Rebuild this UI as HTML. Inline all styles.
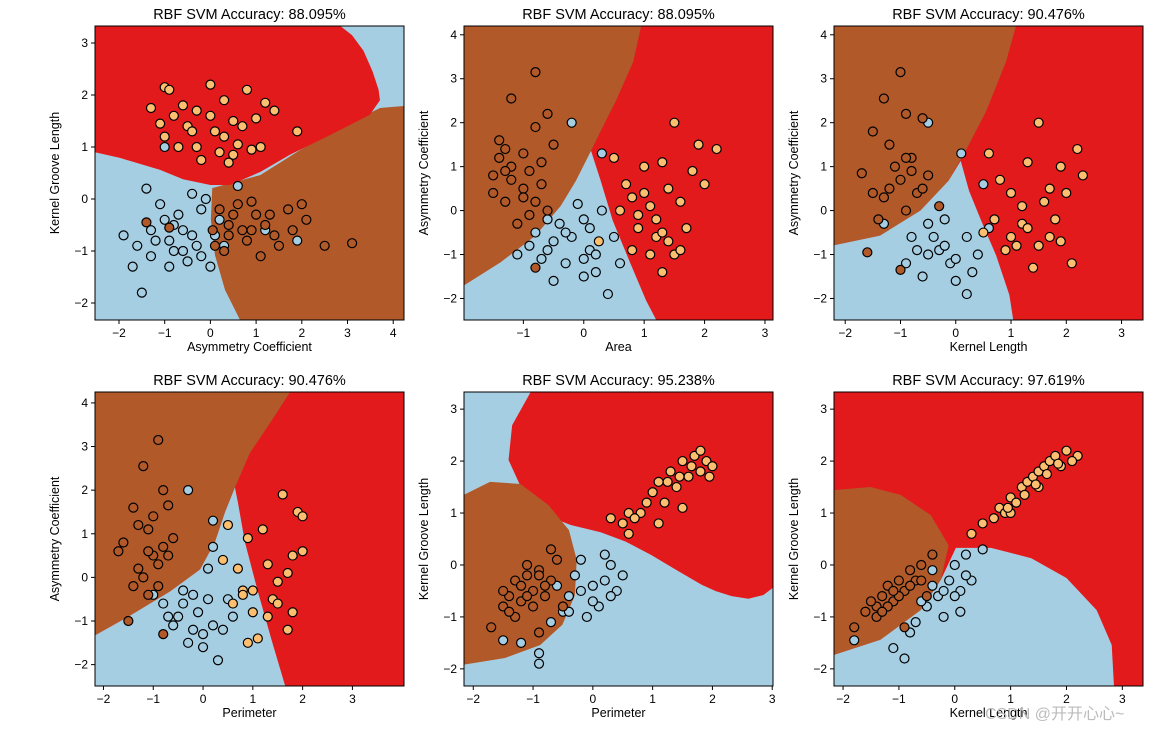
<!DOCTYPE html>
<html><head><meta charset="utf-8"><style>
body{margin:0;background:#fff;width:1171px;height:731px;overflow:hidden;font-family:"Liberation Sans","DejaVu Sans",sans-serif}
svg text{font-family:"Liberation Sans","DejaVu Sans","Noto Sans CJK SC",sans-serif}
</style></head><body>
<svg id="fig" width="1171" height="731" xmlns="http://www.w3.org/2000/svg"></svg>
<script>
const titles=["RBF SVM Accuracy: 88.095%","RBF SVM Accuracy: 88.095%","RBF SVM Accuracy: 90.476%","RBF SVM Accuracy: 90.476%","RBF SVM Accuracy: 95.238%","RBF SVM Accuracy: 97.619%"];
const xLabels=["Asymmetry Coefficient","Area","Kernel Length","Perimeter","Perimeter","Kernel Length"];
const yLabels=["Kernel Groove Length","Asymmetry Coefficient","Asymmetry Coefficient","Asymmetry Coefficient","Kernel Groove Length","Kernel Groove Length"];
const xTicks=[[-2,-1,0,1,2,3,4],[-1,0,1,2,3],[-2,-1,0,1,2,3],[-2,-1,0,1,2,3],[-2,-1,0,1,2,3],[-2,-1,0,1,2,3]];
const yTicks=[[-2,-1,0,1,2,3],[-2,-1,0,1,2,3,4],[-2,-1,0,1,2,3,4],[-2,-1,0,1,2,3,4],[-2,-1,0,1,2,3],[-2,-1,0,1,2,3]];
const xDomains=[[-2.525,4.236],[-1.983,3.133],[-2.203,3.388],[-2.17,4.036],[-2.155,3.013],[-2.162,3.37]];
const yDomains=[[-2.327,3.327],[-2.49,4.2],[-2.49,4.2],[-2.49,4.25],[-2.33,3.33],[-2.33,3.33]];
const bgColor=["#a6cee3","#e31a1c","#e31a1c","#e31a1c","#a6cee3","#e31a1c"];
const regions=[
 [["#b15928",[[0.04,0.21],[1.09,0.46],[1.96,0.94],[2.84,1.37],[3.71,1.75],[4.24,1.79],[4.24,-2.33],[0.65,-2.33],[0.32,-1.75],[0.1,-1.08],[0.01,-0.4]]],
  ["#e31a1c",[[-2.53,3.33],[2.84,3.33],[3.1,3.15],[3.35,2.85],[3.55,2.45],[3.68,2.1],[3.71,1.9],[3.49,1.62],[2.62,1.23],[1.74,0.85],[1.09,0.52],[0.43,0.27],[0,0.27],[-0.6,0.38],[-1.1,0.56],[-1.98,0.79],[-2.53,0.9]]]],
 [["#b15928",[[-1.98,4.2],[0.95,4.2],[0.82,3.39],[0.53,2.49],[0.28,1.81],[0.12,1.36],[-0.13,0.68],[-0.38,0.11],[-0.8,-0.57],[-1.38,-1.18],[-1.98,-1.7]]],
  ["#a6cee3",[[-1.98,-1.7],[-1.38,-1.18],[-0.8,-0.57],[-0.38,0.11],[-0.13,0.68],[0.12,1.36],[0.28,0.68],[0.48,-0.23],[0.75,-1.13],[1.03,-2.04],[1.2,-2.49],[-1.98,-2.49]]]],
 [["#b15928",[[-2.2,4.2],[1.09,4.2],[0.91,3.39],[0.55,2.26],[0.18,1.36],[-0.13,0.68],[-0.64,0],[-1.37,-0.57],[-2.2,-0.79]]],
  ["#a6cee3",[[-2.2,-0.79],[-1.37,-0.57],[-0.64,0],[-0.13,0.68],[0.09,1.13],[0.24,0.45],[0.46,-0.23],[0.73,-1.02],[0.97,-1.92],[1.04,-2.49],[-2.2,-2.49]]]],
 [["#b15928",[[-2.17,4.25],[1.75,4.25],[1.34,3.53],[0.94,2.85],[0.64,2.06],[0.44,1.49],[0.24,0.81],[-0.06,0.18],[-0.66,-0.32],[-1.47,-0.88],[-2.17,-1.33]]],
  ["#a6cee3",[[-2.17,-1.33],[-1.47,-0.88],[-0.66,-0.32],[-0.06,0.18],[0.24,0.81],[0.44,1.49],[0.64,2.06],[0.7,1.72],[0.84,0.81],[1.1,-0.32],[1.38,-1.45],[1.65,-2.49],[-2.17,-2.49]]]],
 [["#e31a1c",[[-1.04,3.33],[3.01,3.33],[3.01,-0.44],[2.85,-0.58],[2.6,-0.65],[2.32,-0.6],[2.05,-0.5],[1.82,-0.38],[1.4,-0.1],[0.98,0.19],[0.55,0.45],[0.13,0.63],[-0.37,0.77],[-0.79,0.96],[-1.18,1.44],[-1.41,2.02],[-1.35,2.69]]],
  ["#b15928",[[-2.16,1.35],[-1.72,1.6],[-1.21,1.56],[-0.74,1.15],[-0.4,0.67],[-0.27,0.1],[-0.3,-0.58],[-0.51,-1.15],[-0.88,-1.54],[-1.47,-1.79],[-2.16,-1.92]]]],
 [["#b15928",[[-2.16,1.44],[-1.51,1.5],[-0.97,1.35],[-0.43,0.96],[-0.11,0.38],[-0.25,-0.29],[-0.61,-0.87],[-1.33,-1.44],[-2.16,-1.73]]],
  ["#a6cee3",[[-2.16,-1.73],[-1.33,-1.44],[-0.61,-0.87],[-0.25,-0.29],[0.02,0.33],[0.65,0.33],[1.37,0.13],[2.0,-0.25],[2.54,-0.87],[2.81,-1.54],[2.85,-2.33],[-2.16,-2.33]]]]
];
const blueX=[[-1.9,-1.6,-1.5,-1.3,-1.2,-1.0,-0.8,-0.7,-0.6,-0.5,-0.3,-0.2,0,0.1,-1.4,-0.9,-0.4,0.6,-1.7,-0.1,1.2,1.9,-1,-1.1,-0.8,-0.4,-0.2,0.3,-1.3,-0.6,-0.9,0.2],
 [-0.2,-0.8,-0.6,-0.4,-0.3,-0.2,0,0,0.1,0.2,0.3,0.3,-1.1,-0.5,0.5,0.4,-0.1,0.6,-0.7,-0.5,-0.3,0.1,0.2,-0.6,-0.9,0.0],
 [-0.5,0.1,-0.8,-0.5,-0.3,-0.1,0,0.2,0.4,-0.6,-1.3,0.2,0.5,-0.2,0.6,-0.7,-0.4,-0.2,0.0,0.3,-0.9,-0.5],
 [-0.3,0.2,-0.8,-0.5,-0.4,-0.2,0,0.1,0.2,0.3,-0.6,0.5,0.1,-0.3,-1.0,0.6,0.2,-0.7,-0.4,-0.1,0.0,0.4,-0.2],
 [-1.5,-1.2,-0.9,-0.7,-0.4,-0.3,-0.2,0,0.1,0.2,0.4,-0.1,0.3,0.5,-0.5,-0.9,-0.6,-0.4,0.0,0.2,-0.2,0.3],
 [-1.8,-1.1,-0.9,-0.7,-0.5,-0.3,-0.1,0,0.1,0.2,0.3,-0.2,0.5,-0.4,0.1,-0.6,-0.2,0.0,0.2,-0.8,-0.4]];
const blueY=[[-0.7,-0.9,-1.8,-0.6,-0.8,-0.4,-1,-0.3,-0.6,-1.2,-0.9,-0.2,-1.3,-0.7,0.2,-1.3,0.1,0.25,-1.3,0,-0.6,-0.8,1.0,-0.1,-0.5,-0.7,-1.1,-0.9,-1.1,-1.0,-0.8,-0.4],
 [2.0,-0.5,-0.9,-0.3,-1.2,-0.6,-1.5,-0.2,-0.9,-1.4,0,1.3,-1,-1.6,-0.6,-1.9,0.15,-1.2,-1.1,-0.7,-0.5,-0.4,-1.0,-0.2,-0.8,-1.1],
 [2.0,1.3,-0.6,-0.3,-0.9,-1.2,-1.6,-0.6,-1,-1.5,-0.3,-1.9,0.6,-0.2,-0.4,-0.9,-0.6,-0.8,-1.1,-1.4,-1.2,-1.0],
 [2.0,1.3,-0.6,-0.9,-0.3,-1.2,-1.6,-0.5,-1.1,-1.9,-1.1,-0.5,0.2,-1.5,-0.4,-0.9,0.7,-0.9,-0.6,-0.8,-1.3,-1.2,-0.4],
 [-1.45,-1.5,-1.7,-1.1,-0.6,-0.2,0.1,-0.4,-0.8,0.2,-0.5,-1.0,0.0,-0.2,-0.9,-1.9,-0.4,-0.9,-0.7,-0.3,-0.5,-0.6],
 [-1.45,-1.6,-1.8,-1.1,-0.8,-0.6,-0.3,0,-0.9,0.2,-0.3,-1.0,0.3,-0.1,-0.5,-0.7,-0.5,-0.6,-0.2,-1.3,-0.4]];
const brownX=[[0.2,0.4,0.6,0.8,1.0,1.2,1.4,1.7,2.1,2.5,3.1,0.3,0.9,1.5,-1.4,-0.9,0.05,2.0,1.1,0.5,0.7,1.3,0.1,0.9,1.8,0.4],
 [-1.2,-0.8,-0.6,-1.4,-1.2,-1.0,-0.8,-1.5,-1.3,-1.0,-0.7,-0.9,-0.5,-1.1,-0.6,-1.3,-0.8,-1.5,-1.2,-0.9,-0.7,-1.4,-1.0,-0.8,-1.3],
 [-1.0,-1.3,-0.9,-1.5,-1.2,-0.8,-1.7,-1.0,-0.7,-1.3,-0.5,-1.4,-0.9,-0.6,-1.0,-1.6,-0.3,-1.1,-0.8,-1.2,-0.6,-1.5,-0.9],
 [-1.2,-0.9,-0.7,-1.4,-1.1,-1.0,-0.8,-1.6,-1.3,-1.0,-0.7,-0.9,-1.5,-1.1,-0.6,-1.3,-0.8,-1.7,-1.2,-0.9,-0.8,-1.4,-1.1],
 [-1.7,-1.5,-1.4,-1.3,-1.2,-1.1,-1.0,-0.9,-0.8,-0.7,-0.6,-1.3,-0.9,-1.1,-0.5,-0.7,-1.5,-1.2,-1.0,-0.8,-1.4,-0.9,-1.1],
 [-1.8,-1.6,-1.4,-1.3,-1.2,-1.0,-0.9,-0.8,-0.6,-0.5,-1.1,-0.4,-1.5,-0.7,-0.9,-1.4,-1.2,-1.0,-0.8,-0.6,-1.3,-1.1]];
const brownY=[[-0.2,-0.5,-0.1,-0.8,-0.3,-0.5,-0.7,-0.2,-0.4,-0.9,-0.85,-1.0,-0.05,-0.9,-0.45,-0.55,-0.6,-0.1,-1.1,-0.3,-0.6,-0.3,-0.9,-0.6,-0.6,-0.7],
 [2.55,3.15,2.2,1.6,1.0,1.3,1.9,0.8,0.2,0.5,0.6,-0.1,1.5,-0.3,0,1.4,-1.3,0.4,0.7,0.9,1.1,1.2,0.3,0.2,0.9],
 [3.15,2.55,2.2,1.8,1.5,1.2,0.85,0.7,0.4,0.3,0.8,-0.2,0,2.1,-1.35,-0.95,0.1,1.0,0.9,0.5,0.5,0.4,1.2],
 [2.55,3.15,1.65,1.6,1.1,1.4,2.0,0.8,0.2,0.5,0.5,-0.2,-1,-0.4,0.9,1.2,-1.3,0.6,0.0,0.3,0.7,-0.2,0.6],
 [-1.2,-0.8,-0.6,-0.3,-0.7,-0.2,-0.5,-0.1,-0.6,-0.3,0.1,-1.0,-1.3,0,-0.8,0.3,-0.5,-0.4,-0.8,-0.4,-0.9,-0.2,-0.6],
 [-1.2,-0.9,-0.8,-0.6,-0.4,-0.3,-0.5,-0.1,0,-0.6,-0.7,0.2,-0.7,-0.3,-1.2,-1.0,-0.8,-0.6,-0.4,-0.3,-0.9,-0.5]];
const tanX=[[-1.3,-1,-0.9,-0.6,-0.5,-0.3,0,0.3,0.5,0.8,1.2,1.4,-1.1,-0.7,-0.3,0.2,0.4,0.9,1.9,-1.0,0.1,0.6,-0.8,-0.4,0.0,0.7,1.1,-0.2,0.3,1.0,0.5],
 [0.5,0.7,0.8,0.9,1.0,1.1,1.2,1.3,1.4,1.5,1.5,1.6,1.7,1.9,2.0,2.2,0.25,1.3,1.1,0.8,1.8,0.6,1.2,1.4,1.0,1.6,0.9,1.3],
 [0.6,0.8,1.0,1.2,1.3,1.5,1.6,1.7,1.9,2.0,2.2,2.3,0.9,1.1,1.4,1.8,2.1,0.5,1.5,1.0,1.2,1.7,0.7,1.3,1.9],
 [0.4,0.5,0.7,0.8,0.9,1.0,1.2,1.3,1.5,1.6,1.7,1.8,1.9,2.0,2.0,1.1,0.6,1.4,0.9,1.7,1.0,1.3,1.5,0.8,1.8],
 [0.3,0.5,0.6,0.8,0.9,1.0,1.1,1.2,1.3,1.4,1.5,1.6,1.7,1.8,1.9,2.0,1.5,1.1,0.6,1.8,1.25,1.45,1.65,0.7,1.95],
 [0.5,0.7,0.8,0.9,1.0,1.1,1.2,1.3,1.4,1.5,1.6,1.7,1.8,1.9,2.0,2.2,1.5,1.0,0.3,2.1,1.25,1.45,1.65,1.85,0.95]];
const tanY=[[1.75,2.15,2.1,1.8,1.4,1.7,2.2,1.9,1.5,2.1,1.85,1.7,1.45,1.0,1.0,0.9,0.7,0.95,1.3,1.2,1.3,1.05,1.6,1.3,1.6,1.4,1.0,0.75,1.2,1.55,0.85],
 [1.2,0.6,0.3,-0.4,1.0,0.1,-0.6,1.1,0.5,-1.0,2.0,0.2,-0.4,1.5,0.6,1.4,-0.7,-1.4,-1.0,-0.9,0.9,0.0,-0.2,-0.7,0.4,-0.9,-0.1,-0.5],
 [1.3,0.7,0.4,-0.3,1.1,2.0,0.2,-0.6,1.0,0.4,1.4,0.8,-0.9,-0.8,-1.3,-0.2,-1.2,-0.5,-0.8,-0.6,0.1,0.5,-0.2,-0.4,-0.7],
 [0.4,1.2,0.2,-0.3,0.9,-0.8,1.1,0.3,-0.1,1.9,-1.2,0.5,1.5,1.4,0.6,-1.4,-0.6,-0.5,-1.5,0.1,-0.3,-0.9,-0.6,-0.4,-0.8],
 [0.9,0.8,1.0,1.0,1.2,1.4,1.6,1.2,1.8,1.5,2.0,1.7,2.1,1.8,2.0,1.9,1.1,0.8,0.6,2.2,1.6,1.7,1.9,0.9,1.7],
 [0.8,0.9,1.1,1.0,1.3,1.2,1.5,1.6,1.7,1.8,1.9,2.0,2.1,1.9,2.2,2.1,1.5,1.0,0.6,2.0,1.35,1.55,1.75,1.95,1.1]];

const boxes=[[95,26],[464,26],[834,26],[95,392],[464,392],[834,392]];
const W=309,H=294;
const NS="http://www.w3.org/2000/svg";
const svg=document.getElementById('fig');
function mk(tag,attrs,parent){const e=document.createElementNS(NS,tag);for(const k in attrs)e.setAttribute(k,attrs[k]);(parent||svg).appendChild(e);return e;}
for(let p=0;p<6;p++){
  const [bx,by]=boxes[p];
  const xs=v=>bx+(v-xDomains[p][0])/(xDomains[p][1]-xDomains[p][0])*W;
  const ys=v=>by+H-(v-yDomains[p][0])/(yDomains[p][1]-yDomains[p][0])*H;
  const g=mk('g',{});
  
  
  const cp=mk('clipPath',{id:'c'+p},g);
  mk('rect',{x:bx,y:by,width:W,height:H},cp);
  const plot=mk('g',{'clip-path':'url(#c'+p+')'},g);
  const bg=mk('rect',{x:bx,y:by,width:W,height:H,fill:bgColor[p]},plot);
  
  
  regions[p].forEach(r=>{
    const poly=mk('polygon',{points:r[1].map(q=>xs(q[0])+','+ys(q[1])).join(' '),fill:r[0]},plot);
    
    
  });
  const sets=[[blueX[p],blueY[p],'#a6cee3','class-1-point'],[brownX[p],brownY[p],'#b15928','class-2-point'],[tanX[p],tanY[p],'#fdbf6f','class-3-point']];
  sets.forEach(s=>{s[0].forEach((x,i)=>{
    const c=mk('circle',{cx:xs(x),cy:ys(s[1][i]),r:4.5,fill:s[2],stroke:'#000','stroke-width':1.2},plot);
    
    
  });});
  mk('rect',{x:bx,y:by,width:W,height:H,fill:'none',stroke:'#000','stroke-width':1},g);
  xTicks[p].forEach(t=>{const x=xs(t);
    mk('line',{x1:x,x2:x,y1:by+H,y2:by+H+4,stroke:'#000'},g);
    const tx=mk('text',{x:x,y:by+H+17,'font-size':12,'text-anchor':'middle'},g);tx.textContent=(t<0?'\u2212'+(-t):t);
    
    });
  yTicks[p].forEach(t=>{const y=ys(t);
    mk('line',{x1:bx-4,x2:bx,y1:y,y2:y,stroke:'#000'},g);
    const tx=mk('text',{x:bx-7,y:y+4,'font-size':12,'text-anchor':'end'},g);tx.textContent=(t<0?'\u2212'+(-t):t);
    
    });
  const ti=mk('text',{x:bx+W/2,y:by-7,'font-size':14.5,'text-anchor':'middle'},g);ti.textContent=titles[p];
  
  
  const xl=mk('text',{x:bx+W/2,y:by+H+31,'font-size':12.5,'text-anchor':'middle'},g);xl.textContent=xLabels[p];
  
  
  const yl=mk('text',{x:0,y:0,'font-size':12.5,'text-anchor':'middle',transform:'translate('+(bx-36)+','+(by+H/2)+') rotate(-90)'},g);yl.textContent=yLabels[p];
  
  
}
const wm=mk('text',{x:985,y:719,'font-size':16,fill:'#bbb'});wm.textContent='CSDN @开开心心~';


</script>
</body></html>
